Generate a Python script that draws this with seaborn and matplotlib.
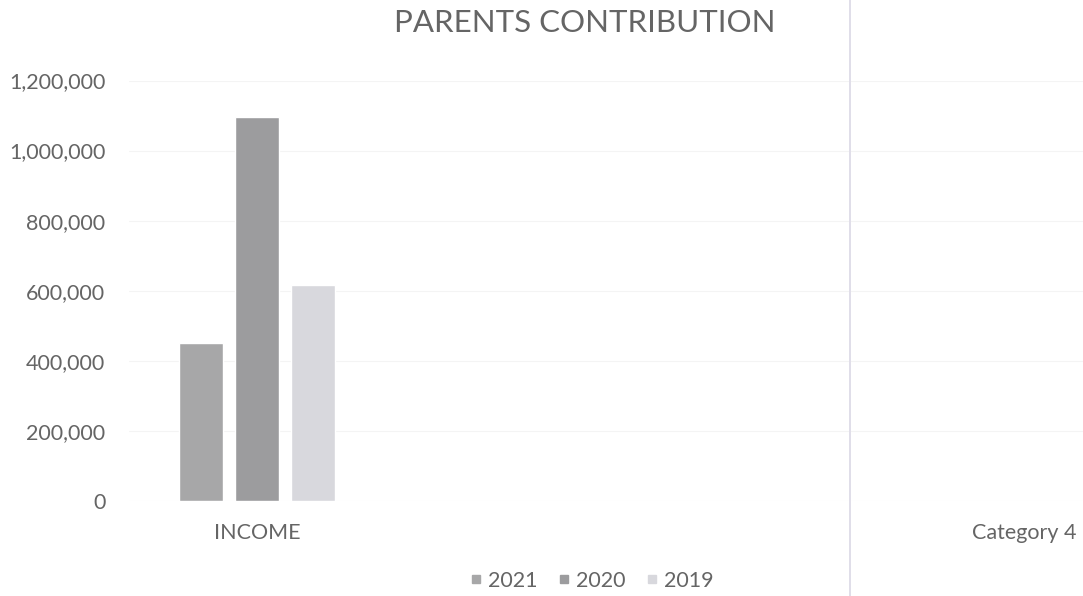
import matplotlib
matplotlib.use("Agg")
import matplotlib.pyplot as plt
from matplotlib.lines import Line2D
from matplotlib.ticker import FuncFormatter
import seaborn as sns
import pandas as pd

# Chart data
categories = ["INCOME", " ", "  ", "Category 4"]
years = ["2021", "2020", "2019"]
income_values = [450000, 1095000, 615000]
year_colors = ["#a7a7a8", "#9c9c9e", "#d8d8dd"]
y_ticks = [0, 200000, 400000, 600000, 800000, 1000000, 1200000]

df = pd.DataFrame({
    "category": ["INCOME"] * len(years),
    "year": years,
    "value": income_values,
})

sns.set_theme(style="white")
plt.rcParams["font.family"] = ["Lato", "DejaVu Sans"]
text_color = "#656565"

fig = plt.figure(figsize=(10.83, 5.96), dpi=100)
W, H = 1083, 596
ax = fig.add_axes([129 / W, (H - 501) / H, 1023 / W, (501 - 80.5) / H])

sns.barplot(
    data=df, x="category", y="value", hue="year",
    order=categories, hue_order=years,
    palette=dict(zip(years, year_colors)),
    width=0.657, gap=0.214, saturation=1, ax=ax, legend=False,
)

ax.set_xlim(-0.5, len(categories) - 0.5)
ax.set_ylim(0, 1200000)
ax.set_yticks(y_ticks)
ax.yaxis.set_major_formatter(FuncFormatter(lambda v, _: f"{int(v):,}"))
ax.set_xlabel("")
ax.set_ylabel("")
ax.grid(axis="y", color="#f4f4f4", linewidth=0.8)
ax.set_axisbelow(True)
for s in ax.spines.values():
    s.set_visible(False)
ax.tick_params(axis="y", length=0, pad=17, labelsize=15.5, labelcolor=text_color)
ax.tick_params(axis="x", length=0, pad=16, labelsize=15.5, labelcolor=text_color)

fig.text(585 / W, 1 - 23 / H, "PARENTS CONTRIBUTION", ha="center", va="center",
         fontsize=22.5, color=text_color)

handles = [Line2D([], [], marker="s", linestyle="", markersize=6,
                  markerfacecolor=c, markeredgecolor=c) for c in year_colors]
fig.legend(handles, years, loc="center", bbox_to_anchor=(592 / W, 1 - 581 / H),
           ncol=3, frameon=False, labelcolor=text_color,
           handlelength=0.5, handletextpad=0.3, columnspacing=1.0,
           prop={"size": 15.5})

# thin vertical rule on the right side of the page
fig.add_artist(Line2D([850 / W, 850 / W], [0, 1], transform=fig.transFigure,
                      color="#e0dee9", linewidth=1.4))

fig.savefig("out.png", dpi=100, facecolor="white")
